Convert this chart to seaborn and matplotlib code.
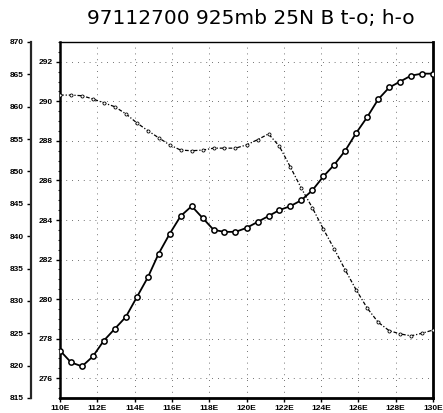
import numpy as np
import pandas as pd
import matplotlib
matplotlib.use("Agg")
import matplotlib.pyplot as plt
import seaborn as sns

# Longitude grid (35 points from 110E to 130E)
lon = [110.00, 110.59, 111.18, 111.76, 112.35, 112.94, 113.53, 114.12, 114.71,
       115.29, 115.88, 116.47, 117.06, 117.65, 118.24, 118.82, 119.41, 120.00,
       120.59, 121.18, 121.76, 122.35, 122.94, 123.53, 124.12, 124.71, 125.29,
       125.88, 126.47, 127.06, 127.65, 128.24, 128.82, 129.41, 130.00]

# temperature (K) - solid line with circles, inner axis
temp = [277.4, 276.8, 276.6, 277.1, 277.9, 278.5, 279.1, 280.1, 281.1,
        282.3, 283.3, 284.2, 284.7, 284.1, 283.5, 283.4, 283.4, 283.6,
        283.9, 284.2, 284.5, 284.7, 285.0, 285.5, 286.2, 286.8, 287.5,
        288.4, 289.2, 290.1, 290.7, 291.0, 291.3, 291.4, 291.4]

# geopotential height (m) - dash-dot line, outer axis
hgt = [861.8, 861.8, 861.7, 861.2, 860.6, 860.0, 858.9, 857.5, 856.3,
       855.2, 854.1, 853.3, 853.2, 853.3, 853.6, 853.6, 853.6, 854.1,
       854.9, 855.8, 853.9, 850.7, 847.4, 844.4, 841.1, 838.0, 834.8,
       831.7, 828.9, 826.7, 825.4, 824.9, 824.6, 825.0, 825.5]

x_ticks = [110, 112, 114, 116, 118, 120, 122, 124, 126, 128, 130]
x_labels = ["110E", "112E", "114E", "116E", "118E", "120E", "122E",
            "124E", "126E", "128E", "130E"]
t_ticks = [276, 278, 280, 282, 284, 286, 288, 290, 292]
h_ticks = [815, 820, 825, 830, 835, 840, 845, 850, 855, 860, 865, 870]

sns.set_style("ticks")
plt.rcParams['font.family'] = ['Liberation Sans', 'DejaVu Sans']

W, H = 443, 413
fig = plt.figure(figsize=(W / 100, H / 100), dpi=100)
L, R, T, B = 60, 433, 42, 398
ax = fig.add_axes([L / W, 1 - B / H, (R - L) / W, (B - T) / H])

df_t = pd.DataFrame({"lon": lon, "val": temp})
df_h = pd.DataFrame({"lon": lon, "val": hgt})

# sparse dotted grid
gstyle = dict(color="#444444", lw=0.6, ls=(0, (1, 6)), zorder=0)
for xv in x_ticks[1:-1]:
    ax.axvline(xv, **gstyle)
for yv in t_ticks:
    ax.axhline(yv, **gstyle)

sns.lineplot(data=df_t, x="lon", y="val", ax=ax, color="black", lw=1.3,
             marker="o", markersize=3.8, markerfacecolor="white",
             markeredgecolor="black", markeredgewidth=1.1, zorder=3)

ax.set_xlim(110, 130)
ax.set_ylim(275, 293)
ax.set_xticks(x_ticks)
ax.set_xticklabels(x_labels)
ax.set_yticks(t_ticks)
ax.set_xlabel("")
ax.set_ylabel("")
ax.tick_params(axis="both", labelsize=6, length=3, width=1, pad=2,
               direction="out", colors="black")
for lab in ax.get_xticklabels() + ax.get_yticklabels():
    lab.set_fontweight("bold")
ax.minorticks_on()
ax.tick_params(axis="x", which="minor", bottom=False)
ax.tick_params(axis="y", which="minor", length=1.5, width=0.8)
ax.yaxis.set_minor_locator(matplotlib.ticker.MultipleLocator(0.5))

ax2 = ax.twinx()
sns.lineplot(data=df_h, x="lon", y="val", ax=ax2, color="black", lw=0.9,
             ls=(0, (3, 1.5, 1, 1.5)), marker="o", markersize=2.2,
             markerfacecolor="white", markeredgecolor="black",
             markeredgewidth=0.6, zorder=3)
ax2.set_ylim(815, 870)
ax2.set_yticks(h_ticks)
ax2.yaxis.set_ticks_position("left")
ax2.yaxis.set_label_position("left")
ax2.spines["left"].set_position(("outward", 21))
ax2.spines["right"].set_visible(False)
ax2.spines["top"].set_visible(False)
ax2.spines["bottom"].set_visible(False)
ax2.spines["left"].set_linewidth(1.6)
ax2.set_ylabel("")
ax2.tick_params(axis="y", labelsize=6, length=3, width=1, pad=2,
                direction="out", colors="black")
for lab in ax2.get_yticklabels():
    lab.set_fontweight("bold")

for side, w in [("left", 1.8), ("right", 2.0), ("bottom", 2.0), ("top", 1.0)]:
    ax.spines[side].set_linewidth(w)
    ax.spines[side].set_color("black")
    ax.spines[side].set_visible(True)

fig.text((L + R) / 2 / W + 0.01, 1 - 18 / H, "97112700 925mb 25N B t-o; h-o",
         ha="center", va="center", fontsize=14.5, color="black",
         family=["DejaVu Sans"])

fig.savefig("out.png", dpi=100, facecolor="white")
